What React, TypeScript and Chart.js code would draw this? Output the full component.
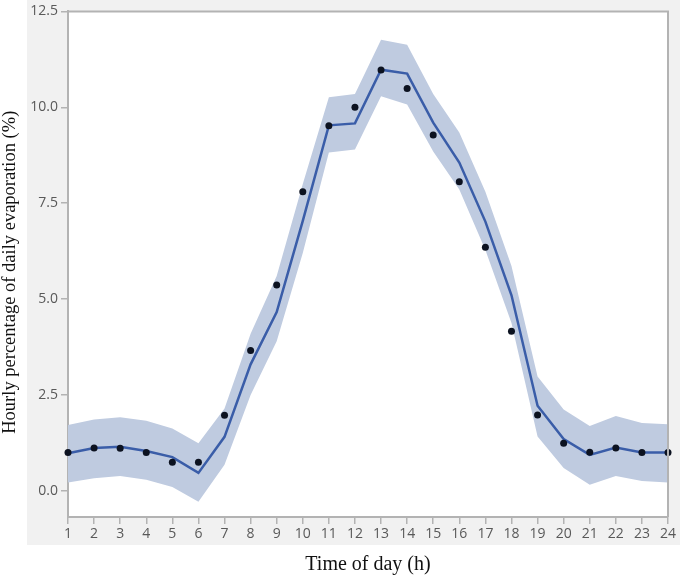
import React, { useEffect, useRef } from "react";
import { Chart, registerables } from "chart.js";

Chart.register(...registerables);

const hours = ["1","2","3","4","5","6","7","8","9","10","11","12","13","14","15","16","17","18","19","20","21","22","23","24"];
const observed = [1.0, 1.12, 1.11, 1.0, 0.75, 0.75, 1.97, 3.66, 5.37, 7.8, 9.52, 10.0, 10.97, 10.49, 9.28, 8.06, 6.35, 4.16, 1.98, 1.24, 1.01, 1.12, 1.0, 1.0];
const fitted = [0.98, 1.12, 1.15, 1.04, 0.88, 0.47, 1.41, 3.3, 4.66, 7.04, 9.53, 9.58, 10.98, 10.88, 9.6, 8.56, 7.02, 5.1, 2.22, 1.35, 0.94, 1.13, 1.0, 1.0];
const upperBand = [1.72, 1.86, 1.92, 1.83, 1.63, 1.24, 2.15, 4.1, 5.6, 8.0, 10.26, 10.35, 11.76, 11.63, 10.35, 9.34, 7.8, 5.86, 2.98, 2.12, 1.69, 1.95, 1.77, 1.74];
const lowerBand = [0.22, 0.33, 0.39, 0.29, 0.1, -0.28, 0.68, 2.5, 3.9, 6.2, 8.82, 8.9, 10.29, 10.07, 8.85, 7.86, 6.28, 4.38, 1.42, 0.6, 0.16, 0.39, 0.26, 0.22];
const yTicks = [0, 2.5, 5, 7.5, 10, 12.5];
const yMin = -0.68;
const yMax = 12.5;
const xTitle = "Time of day (h)";
const yTitle = "Hourly percentage of daily evaporation (%)";

const GRAY = "#b3b3b3";

const bgPlugin = {
  id: "bgPlugin",
  beforeDraw(chart: any) {
    const { ctx, chartArea: a } = chart;
    ctx.save();
    ctx.fillStyle = "#ffffff";
    ctx.fillRect(0, 0, chart.width, chart.height);
    ctx.fillStyle = "#f1f1f1";
    ctx.fillRect(a.left - 41, 0, a.right + 12 - (a.left - 41), a.bottom + 28);
    ctx.fillStyle = "#ffffff";
    ctx.fillRect(a.left, a.top, a.right - a.left, a.bottom - a.top);
    ctx.restore();
  },
  afterDraw(chart: any) {
    const { ctx, chartArea: a } = chart;
    ctx.save();
    ctx.strokeStyle = GRAY;
    ctx.lineWidth = 2;
    ctx.beginPath();
    ctx.moveTo(a.left, a.top);
    ctx.lineTo(a.right, a.top);
    ctx.lineTo(a.right, a.bottom);
    ctx.stroke();
    // y-axis title
    ctx.translate(10, (a.top + a.bottom) / 2 + 8);
    ctx.rotate(-Math.PI / 2);
    ctx.fillStyle = "#111111";
    ctx.font = "18.5px 'Liberation Serif'";
    ctx.textAlign = "center";
    ctx.textBaseline = "middle";
    ctx.fillText(yTitle, 0, 0);
    ctx.restore();
  },
};

export default function App() {
  const ref = useRef<HTMLCanvasElement | null>(null);
  useEffect(() => {
    document.body.style.margin = "0";
    const canvas = ref.current;
    if (!canvas) return;
    const chart = new Chart(canvas, {
      type: "line",
      data: {
        labels: hours,
        datasets: [
          {
            label: "upper",
            data: upperBand,
            borderWidth: 0,
            borderColor: "rgba(0,0,0,0)",
            pointRadius: 0,
            fill: false,
            tension: 0,
            order: 3,
          },
          {
            label: "lower",
            data: lowerBand,
            borderWidth: 0,
            borderColor: "rgba(0,0,0,0)",
            backgroundColor: "#bfcbe0",
            pointRadius: 0,
            fill: "-1",
            tension: 0,
            order: 2,
          },
          {
            label: "fitted",
            data: fitted,
            borderColor: "#3a5da8",
            borderWidth: 2.5,
            pointRadius: 0,
            fill: false,
            tension: 0,
            order: 1,
          },
          {
            label: "observed",
            data: observed,
            showLine: false,
            pointRadius: 3.5,
            pointBackgroundColor: "#0c1220",
            pointBorderColor: "#0c1220",
            pointBorderWidth: 0,
            fill: false,
            order: 0,
          },
        ],
      },
      options: {
        responsive: false,
        animation: false,
        events: [],
        layout: { padding: { top: 10, right: 17, left: 0, bottom: 0 } },
        plugins: {
          legend: { display: false },
          tooltip: { enabled: false },
        },
        scales: {
          x: {
            type: "category",
            offset: false,
            afterFit: (s: any) => {
              s.height = 61;
            },
            grid: {
              display: true,
              drawOnChartArea: false,
              drawTicks: true,
              tickLength: 7,
              color: GRAY,
              lineWidth: 1.5,
            },
            border: { display: true, color: GRAY, width: 2 },
            ticks: {
              color: "#595959",
              font: { family: "'Open Sans'", size: 14 },
              padding: 2,
              maxRotation: 0,
              autoSkip: false,
            },
            title: {
              display: true,
              text: xTitle,
              color: "#111111",
              font: { family: "'Liberation Serif'", size: 20 },
              padding: { top: 0, bottom: 1 },
            },
          },
          y: {
            type: "linear",
            min: yMin,
            max: yMax,
            afterFit: (s: any) => {
              s.width = 68;
            },
            afterBuildTicks: (s: any) => {
              s.ticks = yTicks.map((v) => ({ value: v }));
            },
            grid: {
              display: true,
              drawOnChartArea: false,
              drawTicks: true,
              tickLength: 7,
              color: GRAY,
              lineWidth: 1.5,
            },
            border: { display: true, color: GRAY, width: 2 },
            ticks: {
              color: "#595959",
              font: { family: "'Open Sans'", size: 14 },
              padding: 3,
              callback: (v: any) => Number(v).toFixed(1),
            },
            title: { display: false },
          },
        },
      },
      plugins: [bgPlugin],
    });
    return () => chart.destroy();
  }, []);
  return (
    <div style={{ position: "absolute", left: 0, top: 0 }}>
      <canvas ref={ref} width={685} height={578} style={{ display: "block" }} />
    </div>
  );
}
